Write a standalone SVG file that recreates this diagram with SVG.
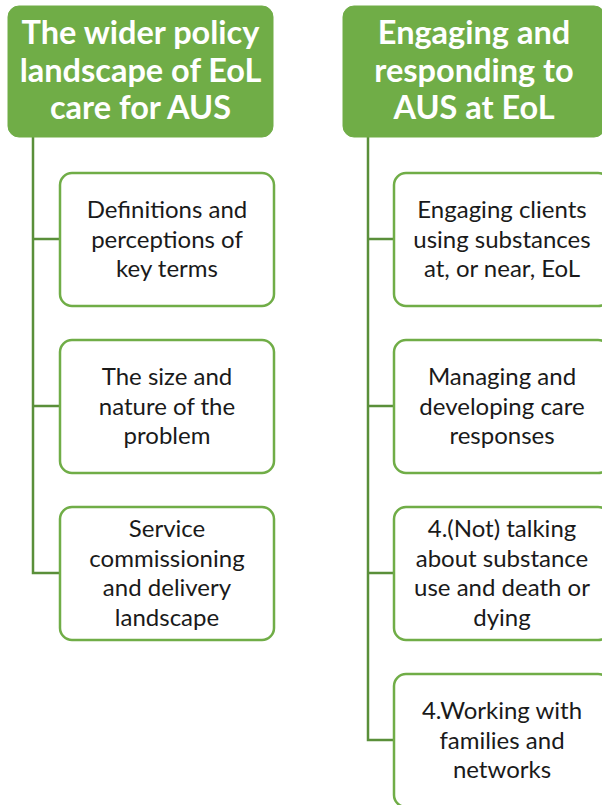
<svg xmlns="http://www.w3.org/2000/svg" width="602" height="805" viewBox="0 0 602 805">
<style>
.hdr{fill:#70AD47;stroke:#70AD47;stroke-width:1}
.ht{fill:#fff;font-family:Lato,"Open Sans",sans-serif;font-weight:bold;font-size:32.5px;text-anchor:middle}
.box{fill:#fff;stroke:#70AD47;stroke-width:2.5}
.bt{fill:#1a1a1a;font-family:Lato,"Open Sans",sans-serif;font-size:24px;text-anchor:middle}
.con{fill:none;stroke:#5A8F3A;stroke-width:2.5}
</style>
<rect width="602" height="805" fill="#fff"/>
<g id="connectors">
<path class="con" d="M33 137V573H60M33 239H60M33 406H60"/>
<path class="con" d="M368 137V740H394M368 239H394M368 406H394M368 573H394"/>
</g>
<g id="h1"><rect class="hdr" x="8" y="6" width="265" height="131" rx="11"/>
<text class="ht" x="140.5" y="44">The wider policy</text><text class="ht" x="140.5" y="81.5">landscape of EoL</text><text class="ht" x="140.5" y="119">care for AUS</text></g>
<g id="h2"><rect class="hdr" x="343" y="6" width="262" height="131" rx="11"/>
<text class="ht" x="474" y="44">Engaging and</text><text class="ht" x="474" y="81.5">responding to</text><text class="ht" x="474" y="119">AUS at EoL</text></g>
<g id="l1"><rect class="box" x="60" y="173" width="214" height="133" rx="12"/>
<text class="bt" x="167" y="218">Definitions and</text><text class="bt" x="167" y="247.5">perceptions of</text><text class="bt" x="167" y="277">key terms</text></g>
<g id="l2"><rect class="box" x="60" y="340" width="214" height="133" rx="12"/>
<text class="bt" x="167" y="385">The size and</text><text class="bt" x="167" y="414.5">nature of the</text><text class="bt" x="167" y="444">problem</text></g>
<g id="l3"><rect class="box" x="60" y="507" width="214" height="133" rx="12"/>
<text class="bt" x="167" y="537">Service</text><text class="bt" x="167" y="566.5">commissioning</text><text class="bt" x="167" y="596">and delivery</text><text class="bt" x="167" y="625.5">landscape</text></g>
<g id="r1"><rect class="box" x="394" y="173" width="216" height="133" rx="12"/>
<text class="bt" x="502" y="218">Engaging clients</text><text class="bt" x="502" y="247.5">using substances</text><text class="bt" x="502" y="277">at, or near, EoL</text></g>
<g id="r2"><rect class="box" x="394" y="340" width="216" height="133" rx="12"/>
<text class="bt" x="502" y="385">Managing and</text><text class="bt" x="502" y="414.5">developing care</text><text class="bt" x="502" y="444">responses</text></g>
<g id="r3"><rect class="box" x="394" y="507" width="216" height="133" rx="12"/>
<text class="bt" x="502" y="537">4.(Not) talking</text><text class="bt" x="502" y="566.5">about substance</text><text class="bt" x="502" y="596">use and death or</text><text class="bt" x="502" y="625.5">dying</text></g>
<g id="r4"><rect class="box" x="394" y="674" width="216" height="133" rx="12"/>
<text class="bt" x="502" y="719">4.Working with</text><text class="bt" x="502" y="748.5">families and</text><text class="bt" x="502" y="778">networks</text></g>
</svg>
